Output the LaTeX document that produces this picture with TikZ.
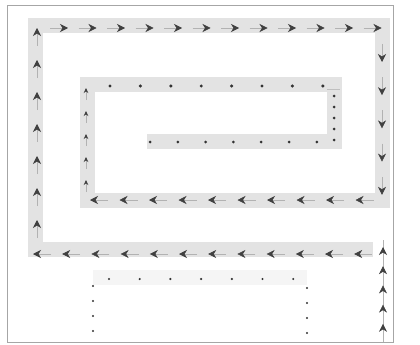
\documentclass[tikz,border=0pt]{standalone}
\usetikzlibrary{arrows.meta}
\tikzset{
  band/.style={line width=15pt,draw=gray!22,line join=miter},
  bigarr/.style={draw=gray!60,line width=0.6pt,
    -{Stealth[length=8pt,width=8pt,inset=2.5pt,color=black!75]}},
  smallarr/.style={draw=gray!60,line width=0.6pt,
    -{Stealth[length=5pt,width=4.5pt,color=black!75]}},
  dot/.style={fill=black!80}
}
\begin{document}
\begin{tikzpicture}[x=1pt,y=-1pt]
  \useasboundingbox (0,0) rectangle (420,345);
  % frame
  \draw[gray!70,line width=0.8pt] (7,5) rectangle (393,342);
  % corners of the spiral band
  \coordinate (in) at (373,249);
  \coordinate (c1) at (35,249);
  \coordinate (c2) at (35,26);
  \coordinate (c3) at (382,26);
  \coordinate (c4) at (382,200);
  \coordinate (c5) at (87,200);
  \coordinate (c6) at (87,84);
  \coordinate (c7) at (334.5,84);
  \coordinate (c8) at (334.5,141);
  \coordinate (out) at (147,141);
  \draw[band] (in) -- (c1) -- (c2) -- (c3) -- (c4) -- (c5) -- (c6) -- (c7) -- (c8) -- (out);
  % faint lower band
  \coordinate (u1) at (93,277);
  \coordinate (u2) at (307,277);
  \draw[band,draw=gray!8] (u1) -- (u2);
  % entry line on the right
  \coordinate (e0) at (383,342);
  \coordinate (e1) at (383,240);
  \draw[gray!60,line width=0.6pt] (e0) -- (e1);
  \foreach \i in {0,...,4}
    \draw[bigarr] (383,{261+19.2*\i}) -- (383,{247+19.2*\i});
  % lower row, pointing left
  \foreach \i in {0,...,11}
    \draw[bigarr] ({51+29.2*\i},254) -- ({33+29.2*\i},254);
  % outer left column, pointing up
  \foreach \i in {0,...,6}
    \draw[bigarr] (37,{46+32*\i}) -- (37,{28+32*\i});
  % top row, pointing right
  \foreach \i in {0,...,11}
    \draw[bigarr] ({50+28.5*\i},28) -- ({68+28.5*\i},28);
  % outer right column, pointing down
  \foreach \i in {0,...,4}
    \draw[bigarr] (382,{44+33.2*\i}) -- (382,{62+33.2*\i});
  % middle row, pointing left
  \foreach \i in {0,...,9}
    \draw[bigarr] ({108+29.5*\i},200) -- ({90+29.5*\i},200);
  % inner left column, small arrows up
  \foreach \i in {0,...,4}
    \draw[smallarr] (86,{100+23*\i}) -- (86,{88+23*\i});
  % inner top row, dots
  \foreach \i in {0,...,7}
    \fill[dot] ({110+30.4*\i},86) circle (1.7);
  % inner right column, dots
  \draw[gray!50,line width=0.4pt] (327,89) -- (340,89);
  \foreach \y in {96,107,118,129,140}
    \fill[dot] (334,\y) circle (1.5);
  % inner bottom row, dots
  \foreach \i in {0,...,6}
    \fill[dot] ({150+27.8*\i},142) circle (1.5);
  % lower dotted U
  \foreach \i in {0,...,6}
    \fill[dot] ({109+30.7*\i},279) circle (1.2);
  \foreach \y in {286,301,316,331}
    \fill[dot] (93,\y) circle (1.2);
  \foreach \y in {288,303,318,333}
    \fill[dot] (307,\y) circle (1.2);
\end{tikzpicture}
\end{document}
